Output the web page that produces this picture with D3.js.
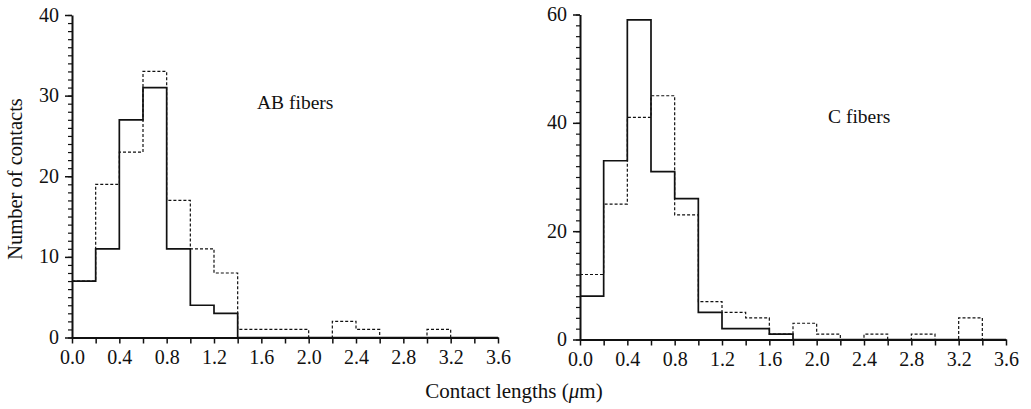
<!DOCTYPE html>
<html>
<head>
<meta charset="utf-8">
<script src="https://cdn.jsdelivr.net/npm/d3@7"></script>
<style>
  body { margin: 0; background: #fff; }
  svg text { font-family: "Liberation Serif", "Times New Roman", serif; fill: #111; }
  .axis path, .axis line { stroke: #111; }
</style>
</head>
<body>
<svg id="chart" width="1031" height="409"></svg>
<script>
// bin edges every 0.2 um, from 0.0 to 3.6
var binWidth = 0.2;
var xTicksMajor = [0, 0.4, 0.8, 1.2, 1.6, 2.0, 2.4, 2.8, 3.2, 3.6];

// AB fibers (left panel)
var abSolid  = [7, 11, 27, 31, 11, 4, 3, 0, 0, 0, 0, 0, 0, 0, 0, 0, 0, 0];
var abDashed = [7, 19, 23, 33, 17, 11, 8, 1, 1, 1, 0, 2, 1, 0, 0, 1, 0, 0];
var abYTicks = [0, 10, 20, 30, 40];

// C fibers (right panel)
var cSolid  = [8, 33, 59, 31, 26, 5, 2, 2, 1, 0, 0, 0, 0, 0, 0, 0, 0, 0];
var cDashed = [12, 25, 41, 45, 23, 7, 5, 4, 1, 3, 1, 0, 1, 0, 1, 0, 4, 0];
var cYTicks = [0, 20, 40, 60];

var svg = d3.select("#chart");

function panel(opt) {
    var x = d3.scaleLinear().domain([0, 3.6]).range([opt.left, opt.right]);
    var y = d3.scaleLinear().domain([0, opt.ymax]).range([opt.bottom, opt.top]);
    var g = svg.append("g");

    // minor y ticks
    g.append("g").attr("class", "axis")
        .attr("transform", "translate(" + opt.left + ",0)")
        .call(d3.axisLeft(y).tickValues(d3.range(0, opt.ymax + 1, opt.yMinor))
            .tickSize(4).tickSizeOuter(0).tickFormat(""))
        .call(function(a) { a.select(".domain").attr("stroke-width", 2); a.selectAll("line").attr("stroke-width", 1.2); });

    // major y ticks with labels
    g.append("g").attr("class", "axis")
        .attr("transform", "translate(" + opt.left + ",0)")
        .call(d3.axisLeft(y).tickValues(opt.yTicks).tickSize(7).tickSizeOuter(0).tickPadding(6))
        .call(function(a) {
            a.select(".domain").remove();
            a.selectAll("line").attr("stroke-width", 1.5);
            a.selectAll("text").attr("font-size", 20).attr("dy", "0.3em")
                .style("font-family", "Liberation Serif");
        });

    // x axis: ticks every 0.2, labels every 0.4
    var steps = d3.range(0, 19).map(function(i) { return +(i * binWidth).toFixed(1); });
    g.append("g").attr("class", "axis")
        .attr("transform", "translate(0," + opt.bottom + ")")
        .call(d3.axisBottom(x).tickValues(steps).tickSize(6).tickSizeOuter(0).tickFormat(""))
        .call(function(a) { a.select(".domain").attr("stroke-width", 2); a.selectAll("line").attr("stroke-width", 1.5); });

    g.append("g").attr("class", "axis")
        .attr("transform", "translate(0," + opt.bottom + ")")
        .call(d3.axisBottom(x).tickValues(xTicksMajor).tickSize(6).tickSizeOuter(0).tickPadding(6)
            .tickFormat(d3.format(".1f")))
        .call(function(a) {
            a.select(".domain").remove();
            a.selectAll("line").remove();
            a.selectAll("text").attr("font-size", 20).style("font-family", "Liberation Serif");
        });

    var line = d3.line()
        .x(function(d) { return x(d[0]); })
        .y(function(d) { return y(d[1]); })
        .curve(d3.curveStepAfter);

    function pts(vals) {
        var p = vals.map(function(v, i) { return [i * binWidth, v]; });
        p.push([vals.length * binWidth, 0]);
        return p;
    }

    g.append("path").datum(pts(opt.dashed))
        .attr("d", line).attr("fill", "none")
        .attr("stroke", "#111").attr("stroke-width", 1.2)
        .attr("stroke-dasharray", "3,2");

    g.append("path").datum(pts(opt.solid))
        .attr("d", line).attr("fill", "none")
        .attr("stroke", "#111").attr("stroke-width", 1.7);

    g.append("text")
        .attr("x", opt.labelX).attr("y", opt.labelY)
        .attr("font-size", 19.5)
        .text(opt.label);
}

panel({ left: 72, right: 498, top: 15, bottom: 337.5, ymax: 40, yMinor: 1,
        yTicks: abYTicks, solid: abSolid, dashed: abDashed,
        label: "AB fibers", labelX: 257, labelY: 109 });

panel({ left: 580, right: 1006, top: 14.5, bottom: 339.5, ymax: 60, yMinor: 2,
        yTicks: cYTicks, solid: cSolid, dashed: cDashed,
        label: "C fibers", labelX: 828, labelY: 123 });

// y axis title
svg.append("text")
    .attr("text-anchor", "middle")
    .attr("font-size", 20.5)
    .attr("transform", "translate(22,179)rotate(-90)")
    .text("Number of contacts");

// x axis title
var xt = svg.append("text")
    .attr("text-anchor", "middle")
    .attr("font-size", 21)
    .attr("x", 514).attr("y", 398);
xt.append("tspan").text("Contact lengths (");
xt.append("tspan").attr("font-style", "italic").text("\u03bc");
xt.append("tspan").text("m)");
</script>
</body>
</html>
